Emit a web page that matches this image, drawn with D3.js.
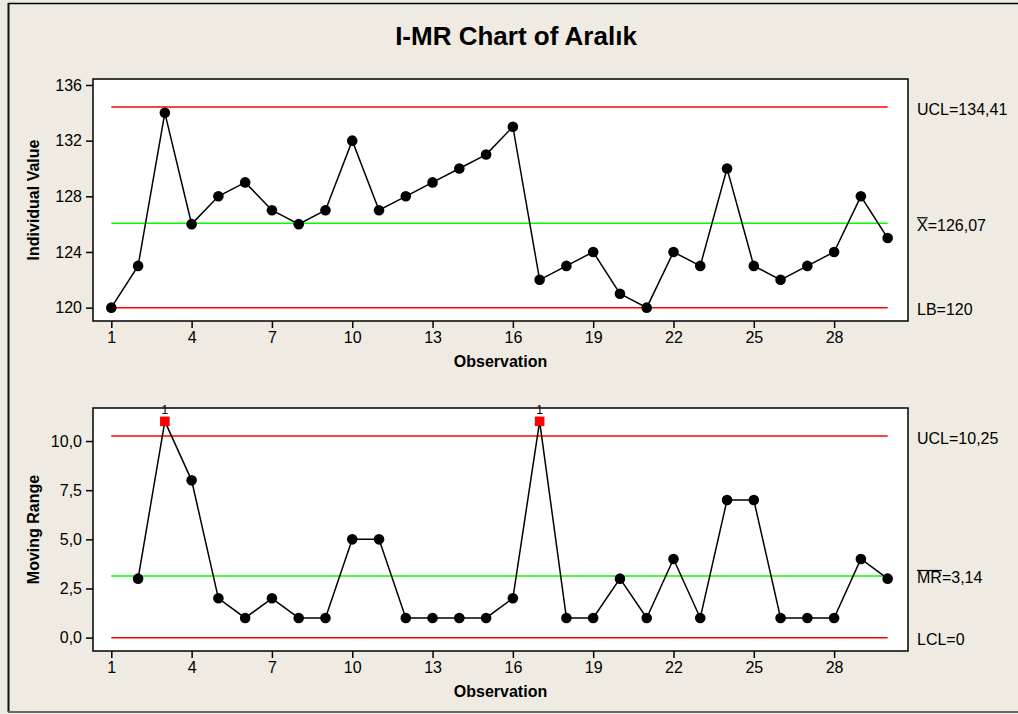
<!DOCTYPE html>
<html><head><meta charset="utf-8">
<script src="https://cdn.jsdelivr.net/npm/d3@7"></script>
<style>
html,body{margin:0;padding:0;background:#efebe2;}
svg{display:block;font-family:"Liberation Sans",Arial,sans-serif;}
</style></head>
<body>
<svg id="c" width="1018" height="714"></svg>
<script>
// ---- data ----
const title = "I-MR Chart of Aralık";
const observations = d3.range(1, 31);
const individualValues = [120,123,134,126,128,129,127,126,127,132,127,128,129,130,131,133,122,123,124,121,120,124,123,130,123,122,123,124,128,125];
const movingRanges = [null,3,11,8,2,1,2,1,1,5,5,1,1,1,1,2,11,1,1,3,1,4,1,7,7,1,1,1,4,3];
const iLimits = {ucl:134.41, center:126.07, lcl:120};
const mrLimits = {ucl:10.25, center:3.14, lcl:0};
const iTicks = [120,124,128,132,136];
const mrTicks = [0,2.5,5,7.5,10];
const xTicks = [1,4,7,10,13,16,19,22,25,28];

const svg = d3.select("#c");
const W = 1018, H = 714;
svg.append("rect").attr("width",W).attr("height",H).attr("fill","#efebe2");
// frame
svg.append("line").attr("x1",8).attr("x2",W).attr("y1",3.5).attr("y2",3.5).attr("stroke","#000").attr("stroke-width",1.5);
svg.append("line").attr("x1",8.5).attr("x2",8.5).attr("y1",3).attr("y2",712).attr("stroke","#111").attr("stroke-width",2);
svg.append("line").attr("x1",8).attr("x2",W).attr("y1",712).attr("y2",712).attr("stroke","#666").attr("stroke-width",2);

svg.append("text").attr("x",516).attr("y",45).attr("text-anchor","middle")
  .attr("font-size",26).attr("font-weight","bold").attr("fill","#000").text(title);

const left = 93, right = 908;
const x = d3.scaleLinear().domain([0.316, 30.76]).range([left, right]);
const fmtComma = d => d3.format(".1f")(d).replace(".", ",");

function panel(cfg){
  const {top, bottom, domain, ticks, tickFmt, values, limits, yTitle, labels} = cfg;
  const y = d3.scaleLinear().domain(domain).range([bottom, top]);
  const g = svg.append("g");
  g.append("rect").attr("x",left).attr("y",top).attr("width",right-left).attr("height",bottom-top)
    .attr("fill","#fff").attr("stroke","#000").attr("stroke-width",1.5);

  const ya = d3.axisLeft(y).tickValues(ticks).tickFormat(tickFmt).tickSize(7).tickSizeOuter(0).tickPadding(4);
  const yg = g.append("g").attr("transform",`translate(${left},0)`).call(ya);
  const xa = d3.axisBottom(x).tickValues(xTicks).tickFormat(d3.format("d")).tickSize(7).tickSizeOuter(0).tickPadding(4);
  const xg = g.append("g").attr("transform",`translate(0,${bottom})`).call(xa);
  [yg,xg].forEach(a=>{
    a.select(".domain").remove();
    a.selectAll(".tick line").attr("stroke","#000").attr("stroke-width",1.5);
    a.selectAll(".tick text").attr("font-size",16).attr("fill","#000").attr("font-family","Liberation Sans, Arial, sans-serif");
  });

  g.append("text").attr("transform",`translate(39,${(top+bottom)/2}) rotate(-90)`)
    .attr("text-anchor","middle").attr("font-size",16).attr("font-weight","bold").text(yTitle);
  g.append("text").attr("x",(left+right)/2).attr("y",bottom+46).attr("text-anchor","middle")
    .attr("font-size",16).attr("font-weight","bold").text("Observation");

  // control lines
  const lines = [[limits.ucl,"#ff0000"],[limits.center,"#00ff00"],[limits.lcl,"#ff0000"]];
  lines.forEach(([v,c])=>{
    g.append("line").attr("x1",x(1)).attr("x2",x(30)).attr("y1",y(v)).attr("y2",y(v))
      .attr("stroke",c).attr("stroke-width",1.5);
  });

  const pts = observations.map((o,i)=>({o, v:values[i]})).filter(d=>d.v!==null);
  g.append("path").datum(pts).attr("fill","none").attr("stroke","#000").attr("stroke-width",1.5)
    .attr("d", d3.line().x(d=>x(d.o)).y(d=>y(d.v)));
  const out = d => d.v > limits.ucl || d.v < limits.lcl;
  g.selectAll("circle.pt").data(pts.filter(d=>!out(d))).join("circle")
    .attr("cx",d=>x(d.o)).attr("cy",d=>y(d.v)).attr("r",5.3).attr("fill","#000");
  const outs = pts.filter(out);
  g.selectAll("rect.pt").data(outs).join("rect")
    .attr("x",d=>x(d.o)-4.8).attr("y",d=>y(d.v)-4.8).attr("width",9.6).attr("height",9.6).attr("fill","#ff0000");
  g.selectAll("text.flag").data(outs).join("text")
    .attr("x",d=>x(d.o)).attr("y",d=>y(d.v)-7).attr("text-anchor","middle")
    .attr("font-size",12).attr("fill","#000").text("1");

  // right labels
  labels.forEach(([v, pre, rest, barLen])=>{
    const t = g.append("text").attr("x",917).attr("y",y(v)+2).attr("dy","0.35em").attr("font-size",16).attr("fill","#000");
    t.append("tspan").text(pre);
    t.append("tspan").text(rest);
    if(barLen>0){
      const w = t.node().getSubStringLength(0, barLen);
      const bb = t.node().getBBox();
      g.append("line").attr("x1",917).attr("x2",917+w).attr("y1",bb.y+1).attr("y2",bb.y+1)
        .attr("stroke","#000").attr("stroke-width",1.2);
    }
  });
  return y;
}

panel({top:79, bottom:321, domain:[119.04,136.43], ticks:iTicks, tickFmt:d3.format("d"),
  values:individualValues, limits:iLimits, yTitle:"Individual Value",
  labels:[[iLimits.ucl,"UCL=","134,41",0],[iLimits.center,"X","=126,07",1],[iLimits.lcl,"LB=","120",0]]});
panel({top:408, bottom:651, domain:[-0.68,11.68], ticks:mrTicks, tickFmt:fmtComma,
  values:movingRanges, limits:mrLimits, yTitle:"Moving Range",
  labels:[[mrLimits.ucl,"UCL=","10,25",0],[mrLimits.center,"MR","=3,14",2],[mrLimits.lcl,"LCL=","0",0]]});
</script>
</body></html>
